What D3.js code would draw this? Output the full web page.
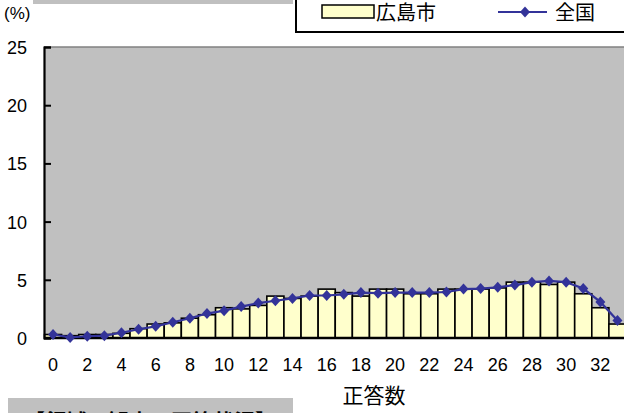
<!DOCTYPE html>
<html>
<head>
<meta charset="utf-8">
<script src="https://cdn.jsdelivr.net/npm/d3@7"></script>
<style>
  html, body { margin: 0; padding: 0; background: #fff; }
  svg { display: block; }
  .num { font-family: "Liberation Sans", Arial, sans-serif; font-size: 18px; fill: #000; }
  .jp { font-family: "Noto Sans CJK JP", sans-serif; fill: #000; }
</style>
</head>
<body>
<svg id="chart" width="624" height="413"></svg>
<script>
// Number of correct answers (0–33)
const categories = d3.range(0, 34).map(String);
// Share of students (%) – Hiroshima City (bars)
const hiroshima = [0.3, 0.2, 0.3, 0.3, 0.4, 0.8, 1.2, 1.3, 1.7, 2.0,
                   2.6, 2.5, 2.8, 3.6, 3.4, 3.6, 4.2, 3.9, 3.6, 4.2,
                   4.2, 3.8, 3.8, 4.2, 4.2, 4.2, 4.3, 4.8, 4.8, 4.6,
                   4.8, 3.8, 2.6, 1.2];
// Share of students (%) – national (line)
const national = [0.3, 0.05, 0.15, 0.2, 0.45, 0.75, 1.0, 1.35, 1.7, 2.1,
                  2.35, 2.7, 3.0, 3.2, 3.4, 3.65, 3.65, 3.75, 3.9, 3.85,
                  3.9, 3.9, 3.9, 3.95, 4.2, 4.25, 4.35, 4.55, 4.8, 4.9,
                  4.8, 4.25, 3.1, 1.5];
const yTicks = [0, 5, 10, 15, 20, 25];
const xTickLabels = d3.range(0, 34, 2).map(String);
const seriesNames = ["広島市", "全国"];

const svg = d3.select("#chart");
const plot = { left: 44, right: 626, top: 47, bottom: 338 };

const x = d3.scaleBand().domain(categories).range([plot.left + 0.5, plot.right]).padding(0);
const y = d3.scaleLinear().domain([0, 25]).range([plot.bottom, plot.top]);

// header strip above the chart
svg.append("rect").attr("x", 33).attr("y", -10).attr("width", 260).attr("height", 14).attr("fill", "#c0c0c0");

// plot background
svg.append("rect")
  .attr("x", plot.left).attr("y", plot.top)
  .attr("width", plot.right - plot.left).attr("height", plot.bottom - plot.top)
  .attr("fill", "#c0c0c0");
svg.append("line")
  .attr("x1", plot.left).attr("x2", plot.right)
  .attr("y1", plot.top).attr("y2", plot.top)
  .attr("stroke", "#808080").attr("stroke-width", 1.5);

// bars
svg.append("g").selectAll("rect")
  .data(hiroshima)
  .join("rect")
  .attr("x", (d, i) => x(categories[i]))
  .attr("y", d => y(d))
  .attr("width", x.bandwidth())
  .attr("height", d => y(0) - y(d))
  .attr("fill", "#ffffcc")
  .attr("stroke", "#000")
  .attr("stroke-width", 1.6);

// axes
const yAxis = d3.axisLeft(y).tickValues(yTicks).tickSize(-7).tickPadding(17).tickFormat(d3.format("d"));
const gy = svg.append("g").attr("transform", `translate(${plot.left},0)`).call(yAxis);
gy.select(".domain").attr("stroke", "#000").attr("stroke-width", 2.2);
gy.selectAll(".tick line").attr("stroke", "#000").attr("stroke-width", 2);
gy.selectAll(".tick text").attr("class", "num").attr("font-family", null).attr("font-size", null)
  .attr("dy", "0.36em");

const xAxis = d3.axisBottom(x).tickValues(xTickLabels).tickSize(0).tickPadding(20);
const gx = svg.append("g").attr("transform", `translate(0,${plot.bottom})`).call(xAxis);
gx.select(".domain").attr("stroke", "#000").attr("stroke-width", 2.6).attr("d", `M${plot.left},0H${plot.right}`);
gx.selectAll(".tick text").attr("class", "num").attr("font-family", null).attr("font-size", null);

// national line with diamond markers
const cx = i => x(categories[i]) + x.bandwidth() / 2;
const line = d3.line().x((d, i) => cx(i)).y(d => y(d));
svg.append("path")
  .datum(national)
  .attr("d", line)
  .attr("fill", "none")
  .attr("stroke", "#333399")
  .attr("stroke-width", 2.2);
const diamond = "M0,-5.5L5,0L0,5.5L-5,0Z";
svg.append("g").selectAll("path")
  .data(national)
  .join("path")
  .attr("d", diamond)
  .attr("transform", (d, i) => `translate(${cx(i)},${y(d)})`)
  .attr("fill", "#333399");

// unit label
svg.append("text").attr("class", "num").attr("x", 4).attr("y", 19)
  .style("font-size", "17px").text("(%)");

// x axis title
svg.append("text").attr("class", "jp").attr("x", 374).attr("y", 403)
  .attr("text-anchor", "middle").style("font-size", "21px").text("正答数");

// legend
const lg = svg.append("g");
lg.append("rect").attr("x", 296).attr("y", -10).attr("width", 340).attr("height", 42)
  .attr("fill", "#fff").attr("stroke", "#000").attr("stroke-width", 2);
lg.append("rect").attr("x", 322).attr("y", 5).attr("width", 52).attr("height", 13)
  .attr("fill", "#ffffcc").attr("stroke", "#000").attr("stroke-width", 1.5);
lg.append("text").attr("class", "jp").attr("x", 376).attr("y", 20)
  .style("font-size", "20px").text(seriesNames[0]);
lg.append("line").attr("x1", 498).attr("x2", 547).attr("y1", 12).attr("y2", 12)
  .attr("stroke", "#333399").attr("stroke-width", 2);
lg.append("path").attr("d", diamond).attr("transform", "translate(525,12)").attr("fill", "#333399");
lg.append("text").attr("class", "jp").attr("x", 555).attr("y", 20)
  .style("font-size", "20px").text(seriesNames[1]);

// section heading below the chart
svg.append("rect").attr("x", 8).attr("y", 398).attr("width", 285).attr("height", 30).attr("fill", "#c0c0c0");
svg.append("text").attr("class", "jp").attr("x", 24).attr("y", 429)
  .style("font-size", "21px").style("font-weight", "bold").text("【領域・観点の正答状況】");
</script>
</body>
</html>
